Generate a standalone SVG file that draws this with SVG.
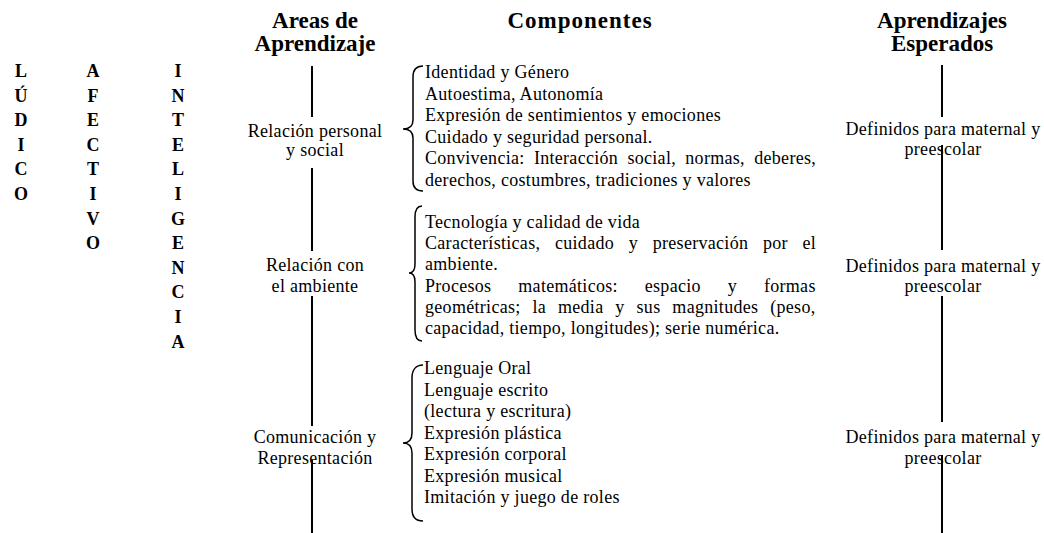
<svg xmlns="http://www.w3.org/2000/svg" width="1044" height="533" viewBox="0 0 1044 533">
<style>
text { font-family: "Liberation Serif", "Times New Roman", serif; fill: #000; }
.h { font-size: 23px; font-weight: bold; text-anchor: middle; }
.v { font-size: 18px; font-weight: bold; text-anchor: middle; }
.t { font-size: 18px; letter-spacing: 0.3px; }
.c { text-anchor: middle; }
.ln { stroke: #000; stroke-width: 2; fill: none; }
.br { stroke: #000; stroke-width: 1.5; fill: none; }
</style>
<rect width="1044" height="533" fill="#fff"/>

<g id="ludico">
<text class="v"><tspan x="21" y="77">L</tspan><tspan x="21" y="101.6">Ú</tspan><tspan x="21" y="126.2">D</tspan><tspan x="21" y="150.8">I</tspan><tspan x="21" y="175.4">C</tspan><tspan x="21" y="200">O</tspan></text>
</g>
<g id="afectivo">
<text class="v"><tspan x="93" y="77">A</tspan><tspan x="93" y="101.6">F</tspan><tspan x="93" y="126.2">E</tspan><tspan x="93" y="150.8">C</tspan><tspan x="93" y="175.4">T</tspan><tspan x="93" y="200">I</tspan><tspan x="93" y="224.6">V</tspan><tspan x="93" y="249.2">O</tspan></text>
</g>
<g id="inteligencia">
<text class="v"><tspan x="178" y="77">I</tspan><tspan x="178" y="101.6">N</tspan><tspan x="178" y="126.2">T</tspan><tspan x="178" y="150.8">E</tspan><tspan x="178" y="175.4">L</tspan><tspan x="178" y="200">I</tspan><tspan x="178" y="224.6">G</tspan><tspan x="178" y="249.2">E</tspan><tspan x="178" y="273.8">N</tspan><tspan x="178" y="298.4">C</tspan><tspan x="178" y="323">I</tspan><tspan x="178" y="347.6">A</tspan></text>
</g>

<g id="header-areas"><text class="h"><tspan x="315" y="28">Areas de</tspan><tspan x="315" y="51">Aprendizaje</tspan></text></g>
<g id="header-componentes"><text class="h" x="580" y="28" font-size="24" letter-spacing="1">Componentes</text></g>
<g id="header-aprendizajes"><text class="h"><tspan x="942" y="28">Aprendizajes</tspan><tspan x="942" y="51">Esperados</tspan></text></g>

<g id="connectors">
<line class="ln" x1="312" y1="66" x2="312" y2="117"/>
<line class="ln" x1="312" y1="168" x2="312" y2="251"/>
<line class="ln" x1="312" y1="296" x2="312" y2="426"/>
<line class="ln" x1="312" y1="460" x2="312" y2="533"/>
<line class="ln" x1="942" y1="65" x2="942" y2="117"/>
<line class="ln" x1="942" y1="145" x2="942" y2="250"/>
<line class="ln" x1="942" y1="296" x2="942" y2="422"/>
<line class="ln" x1="942" y1="455" x2="942" y2="533"/>
<path class="br" d="M423,66 C416,66 413,70 413,77 L413,120 C413,126 409,129 403,129 C409,129 413,132 413,138 L413,181 C413,188 416,191 423,191"/>
<path class="br" d="M422,206 C417,206 415,210 415,217 L415,264 C415,270 413,273 409,273 C413,273 415,276 415,282 L415,330 C415,337 417,341 422,341"/>
<path class="br" d="M423,365 C416,365 412,370 412,378 L412,433 C412,439 409,443 403,443 C409,443 412,447 412,453 L412,509 C412,517 416,521 423,521"/>
</g>

<g id="area-1"><text class="t c"><tspan x="315" y="137">Relación personal</tspan><tspan x="315" y="156">y social</tspan></text></g>
<g id="area-2"><text class="t c"><tspan x="315" y="271">Relación con</tspan><tspan x="315" y="292">el ambiente</tspan></text></g>
<g id="area-3"><text class="t c"><tspan x="315" y="443">Comunicación y</tspan><tspan x="315" y="464">Representación</tspan></text></g>

<g id="comp-1">
<text class="t" x="425" y="78">Identidad y Género</text>
<text class="t" x="425" y="99.6">Autoestima, Autonomía</text>
<text class="t" x="425" y="121.2">Expresión de sentimientos y emociones</text>
<text class="t" x="425" y="142.8">Cuidado y seguridad personal.</text>
<text class="t" x="425" y="164.4" word-spacing="4.5">Convivencia: Interacción social, normas, deberes,</text>
<text class="t" x="425" y="186">derechos, costumbres, tradiciones y valores</text>
</g>
<g id="comp-2">
<text class="t" x="425" y="228">Tecnología y calidad de vida</text>
<text class="t" x="425" y="249.2" word-spacing="9.9">Características, cuidado y preservación por el</text>
<text class="t" x="425" y="270.4">ambiente.</text>
<text class="t" x="425" y="291.6" word-spacing="22.1">Procesos matemáticos: espacio y formas</text>
<text class="t" x="425" y="312.8" word-spacing="7.1">geométricas; la media y sus magnitudes (peso,</text>
<text class="t" x="425" y="334">capacidad, tiempo, longitudes); serie numérica.</text>
</g>
<g id="comp-3">
<text class="t" x="424" y="374">Lenguaje Oral</text>
<text class="t" x="424" y="395.5">Lenguaje escrito</text>
<text class="t" x="424" y="417">(lectura y escritura)</text>
<text class="t" x="424" y="438.5">Expresión plástica</text>
<text class="t" x="424" y="460">Expresión corporal</text>
<text class="t" x="424" y="481.5">Expresión musical</text>
<text class="t" x="424" y="503">Imitación y juego de roles</text>
</g>

<g id="esperado-1"><text class="t c"><tspan x="943" y="135">Definidos para maternal y</tspan><tspan x="943" y="155">preescolar</tspan></text></g>
<g id="esperado-2"><text class="t c"><tspan x="943" y="272">Definidos para maternal y</tspan><tspan x="943" y="292">preescolar</tspan></text></g>
<g id="esperado-3"><text class="t c"><tspan x="943" y="443">Definidos para maternal y</tspan><tspan x="943" y="464">preescolar</tspan></text></g>
</svg>
